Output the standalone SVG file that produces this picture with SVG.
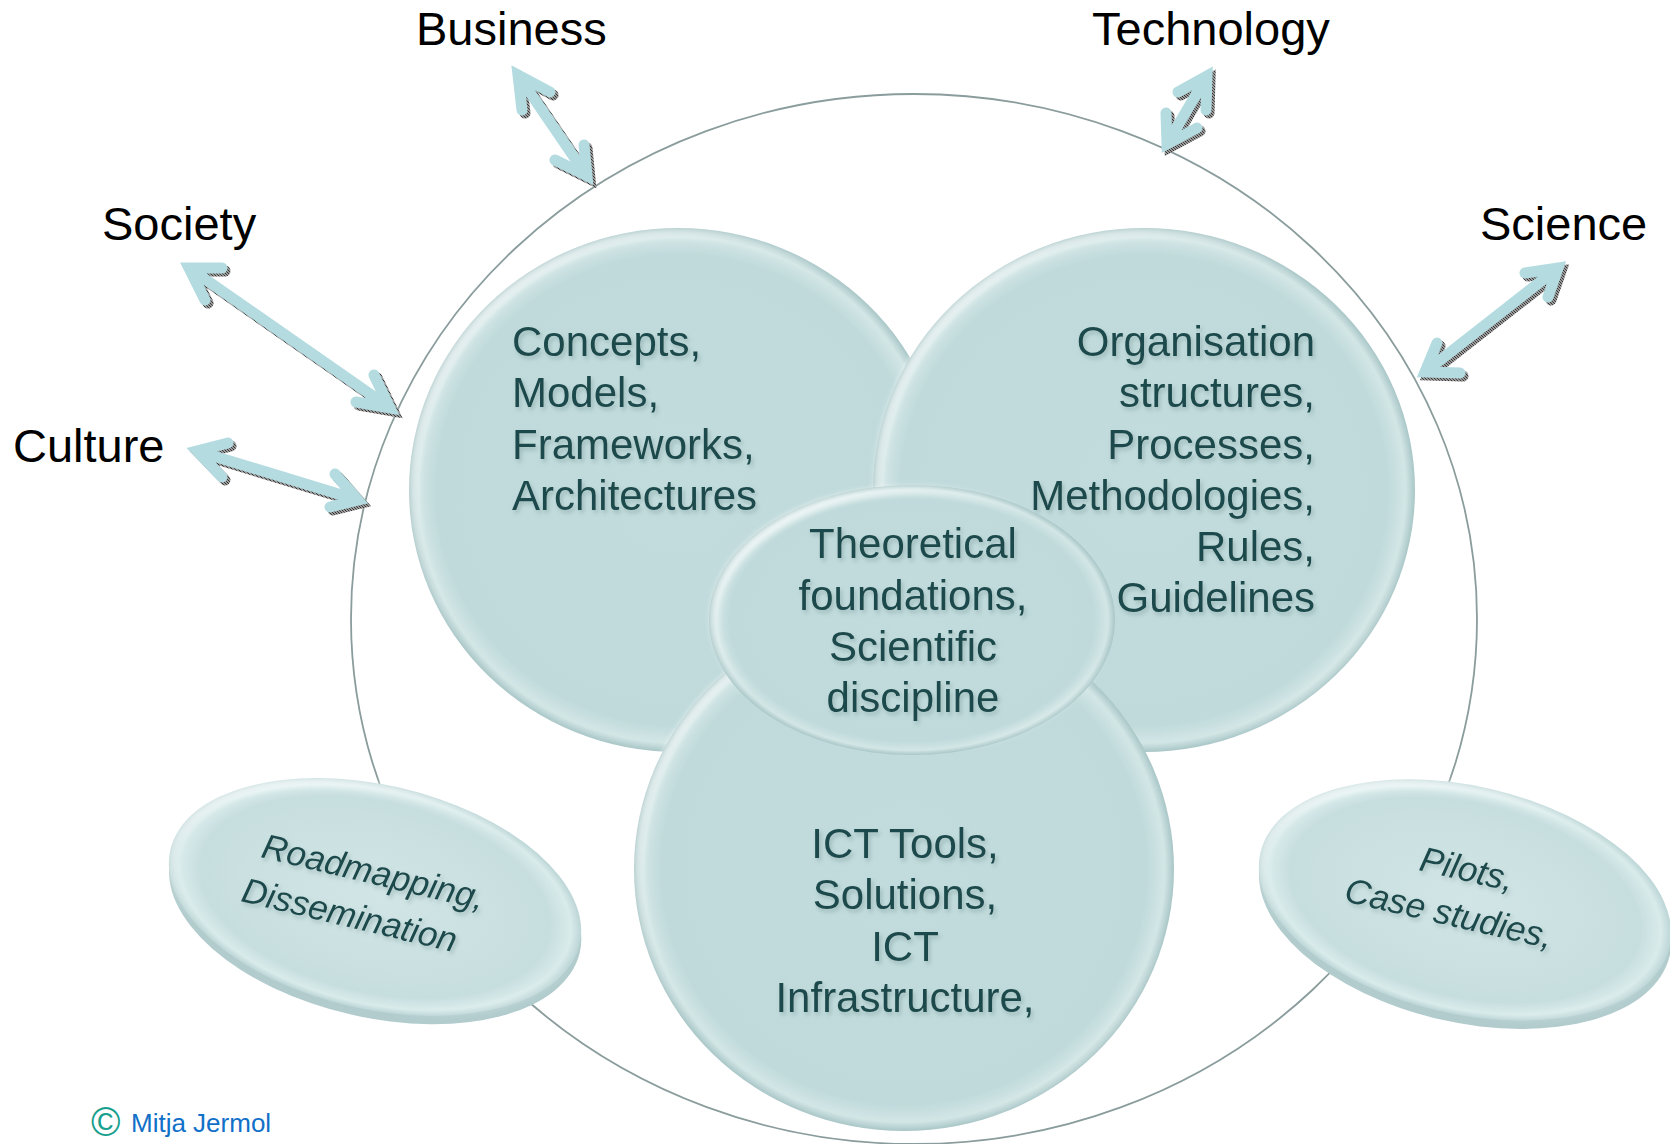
<svg xmlns="http://www.w3.org/2000/svg" width="1670" height="1144" viewBox="0 0 1670 1144">
<defs>
<style>
.lbl{font-family:"Liberation Sans",Arial,sans-serif;font-size:47px;fill:#000}
.nt{font-family:"Liberation Sans",Arial,sans-serif;font-size:42px;fill:#1d4a4b}
.pt{font-family:"Liberation Sans",Arial,sans-serif;font-size:35px;font-style:italic;fill:#1d4a4b}
.arr{fill:none;stroke:#b3dbe0;stroke-width:11;stroke-linecap:round;stroke-linejoin:miter;stroke-miterlimit:10}
.arrs{fill:none;stroke:url(#dither);stroke-width:11;stroke-linecap:round;stroke-linejoin:miter;stroke-miterlimit:10}
.face{fill:url(#face)}
.hl{fill:none;stroke:url(#hl);stroke-width:10}
</style>
<radialGradient id="face" cx="0.5" cy="0.5" r="0.5">
<stop offset="0" stop-color="#c2dbdc"/>
<stop offset="0.9" stop-color="#c0dadb"/>
<stop offset="0.965" stop-color="#d3e6e6"/>
<stop offset="1" stop-color="#a9c6c7"/>
</radialGradient>
<radialGradient id="plate" cx="0.5" cy="0.5" r="0.5">
<stop offset="0" stop-color="#d2e5e6"/>
<stop offset="0.85" stop-color="#c7dedf"/>
<stop offset="0.95" stop-color="#d9ebeb"/>
<stop offset="1" stop-color="#bcd5d6"/>
</radialGradient>
<linearGradient id="hl" x1="0" y1="0" x2="1" y2="1">
<stop offset="0" stop-color="#fff" stop-opacity="0.85"/>
<stop offset="0.45" stop-color="#fff" stop-opacity="0"/>
<stop offset="0.8" stop-color="#fff" stop-opacity="0"/>
<stop offset="1" stop-color="#eef6f6" stop-opacity="0.5"/>
</linearGradient>
<pattern id="dither" patternUnits="userSpaceOnUse" width="3" height="3">
<rect width="3" height="3" fill="#9a9a9a"/>
<rect width="1" height="1" fill="#333"/>
<rect x="1" y="1" width="1" height="1" fill="#444"/>
<rect x="2" y="2" width="1" height="1" fill="#333"/>
</pattern>
<filter id="soft" x="-10%" y="-10%" width="120%" height="120%"><feGaussianBlur stdDeviation="2.5"/></filter>
<filter id="ts" x="-5%" y="-10%" width="115%" height="130%"><feDropShadow dx="2" dy="3" stdDeviation="2" flood-color="#6d8f90" flood-opacity="0.45"/></filter>
</defs>
<rect width="1670" height="1144" fill="#fff"/>

<ellipse id="outline" cx="914" cy="619" rx="563" ry="525" fill="none" stroke="#8a9c9c" stroke-width="1.8"/>

<g id="node-concepts">
<ellipse class="face" cx="678" cy="490" rx="269" ry="262"/>
<ellipse class="hl" cx="678" cy="490" rx="264" ry="257" filter="url(#soft)"/>
<g filter="url(#ts)">
<text class="nt" x="512" y="356">Concepts,</text>
<text class="nt" x="512" y="407">Models,</text>
<text class="nt" x="512" y="459">Frameworks,</text>
<text class="nt" x="512" y="510">Architectures</text>
</g>
</g>

<g id="node-organisation">
<ellipse class="face" cx="1144" cy="490" rx="271" ry="262"/>
<ellipse class="hl" cx="1144" cy="490" rx="266" ry="257" filter="url(#soft)"/>
<g filter="url(#ts)" text-anchor="end">
<text class="nt" x="1315" y="356">Organisation</text>
<text class="nt" x="1315" y="407">structures,</text>
<text class="nt" x="1315" y="458.5">Processes,</text>
<text class="nt" x="1315" y="510">Methodologies,</text>
<text class="nt" x="1315" y="561">Rules,</text>
<text class="nt" x="1315" y="612">Guidelines</text>
</g>
</g>

<g id="node-ict">
<ellipse class="face" cx="904" cy="869" rx="270" ry="262"/>
<ellipse class="hl" cx="904" cy="869" rx="265" ry="257" filter="url(#soft)"/>
<g filter="url(#ts)" text-anchor="middle">
<text class="nt" x="905" y="858">ICT Tools,</text>
<text class="nt" x="905" y="909">Solutions,</text>
<text class="nt" x="905" y="961">ICT</text>
<text class="nt" x="905" y="1012">Infrastructure,</text>
</g>
</g>

<g id="node-theory">
<ellipse class="face" cx="912" cy="620" rx="203" ry="135"/>
<ellipse class="hl" cx="912" cy="620" rx="198" ry="130" filter="url(#soft)"/>
<g filter="url(#ts)" text-anchor="middle">
<text class="nt" x="913" y="558">Theoretical</text>
<text class="nt" x="913" y="609.5">foundations,</text>
<text class="nt" x="913" y="661">Scientific</text>
<text class="nt" x="913" y="712">discipline</text>
</g>
</g>

<g id="node-roadmapping">
<g transform="rotate(13 375 897)">
<ellipse cx="377" cy="905" rx="210" ry="112" fill="#b2cccd"/>
<ellipse cx="375" cy="897" rx="210" ry="112" fill="url(#plate)"/>
<ellipse class="hl" cx="375" cy="897" rx="206" ry="108" stroke-width="6" filter="url(#soft)"/>
</g>
<g filter="url(#ts)">
<text class="pt" x="260" y="857" transform="rotate(13.5 260 857)">Roadmapping,</text>
<text class="pt" x="240" y="901" transform="rotate(13.5 240 901)">Dissemination</text>
</g>
</g>

<g id="node-pilots">
<g transform="rotate(13 1465 900)">
<ellipse cx="1467" cy="908" rx="210" ry="114" fill="#b2cccd"/>
<ellipse cx="1465" cy="900" rx="210" ry="114" fill="url(#plate)"/>
<ellipse class="hl" cx="1465" cy="900" rx="206" ry="110" stroke-width="6" filter="url(#soft)"/>
</g>
<g filter="url(#ts)">
<text class="pt" x="1418" y="870" transform="rotate(13 1418 870)">Pilots,</text>
<text class="pt" x="1343" y="901" transform="rotate(13 1343 901)">Case studies,</text>
</g>
</g>

<g id="connectors">
<g transform="translate(3 3)">
<path class="arrs" d="M550 92 L518 75 L522 110 M518 75 L587 176 M584 145 L587 176 L555 160"/>
<path class="arrs" d="M1178 92 L1207 76 L1206 110 M1207 76 L1167 144 M1166 113 L1167 144 L1197 128"/>
<path class="arrs" d="M222 268 L189 268 L205 300 M189 268 L390 408 M374 375 L390 408 L356 402"/>
<path class="arrs" d="M228 443 L197 451 L222 477 M197 451 L358 500 M335 474 L358 500 L330 507"/>
<path class="arrs" d="M1525 273 L1558 268 L1548 297 M1558 268 L1425 372 M1437 343 L1425 372 L1460 373"/>
</g>
<path id="arrow-business" class="arr" d="M550 92 L518 75 L522 110 M518 75 L587 176 M584 145 L587 176 L555 160"/>
<path id="arrow-technology" class="arr" d="M1178 92 L1207 76 L1206 110 M1207 76 L1167 144 M1166 113 L1167 144 L1197 128"/>
<path id="arrow-society" class="arr" d="M222 268 L189 268 L205 300 M189 268 L390 408 M374 375 L390 408 L356 402"/>
<path id="arrow-culture" class="arr" d="M228 443 L197 451 L222 477 M197 451 L358 500 M335 474 L358 500 L330 507"/>
<path id="arrow-science" class="arr" d="M1525 273 L1558 268 L1548 297 M1558 268 L1425 372 M1437 343 L1425 372 L1460 373"/>
</g>

<g id="label-business"><text class="lbl" x="416" y="45">Business</text></g>
<g id="label-technology"><text class="lbl" x="1092" y="45">Technology</text></g>
<g id="label-society"><text class="lbl" x="102" y="240">Society</text></g>
<g id="label-science"><text class="lbl" x="1480" y="240">Science</text></g>
<g id="label-culture"><text class="lbl" x="13" y="462">Culture</text></g>

<g id="copyright">
<text x="91" y="1136" font-family="'Liberation Sans',Arial,sans-serif" font-size="40" fill="#17a08e">©</text>
<text x="131" y="1132" font-family="'Liberation Sans',Arial,sans-serif" font-size="26" fill="#1170c8">Mitja Jermol</text>
</g>
</svg>
